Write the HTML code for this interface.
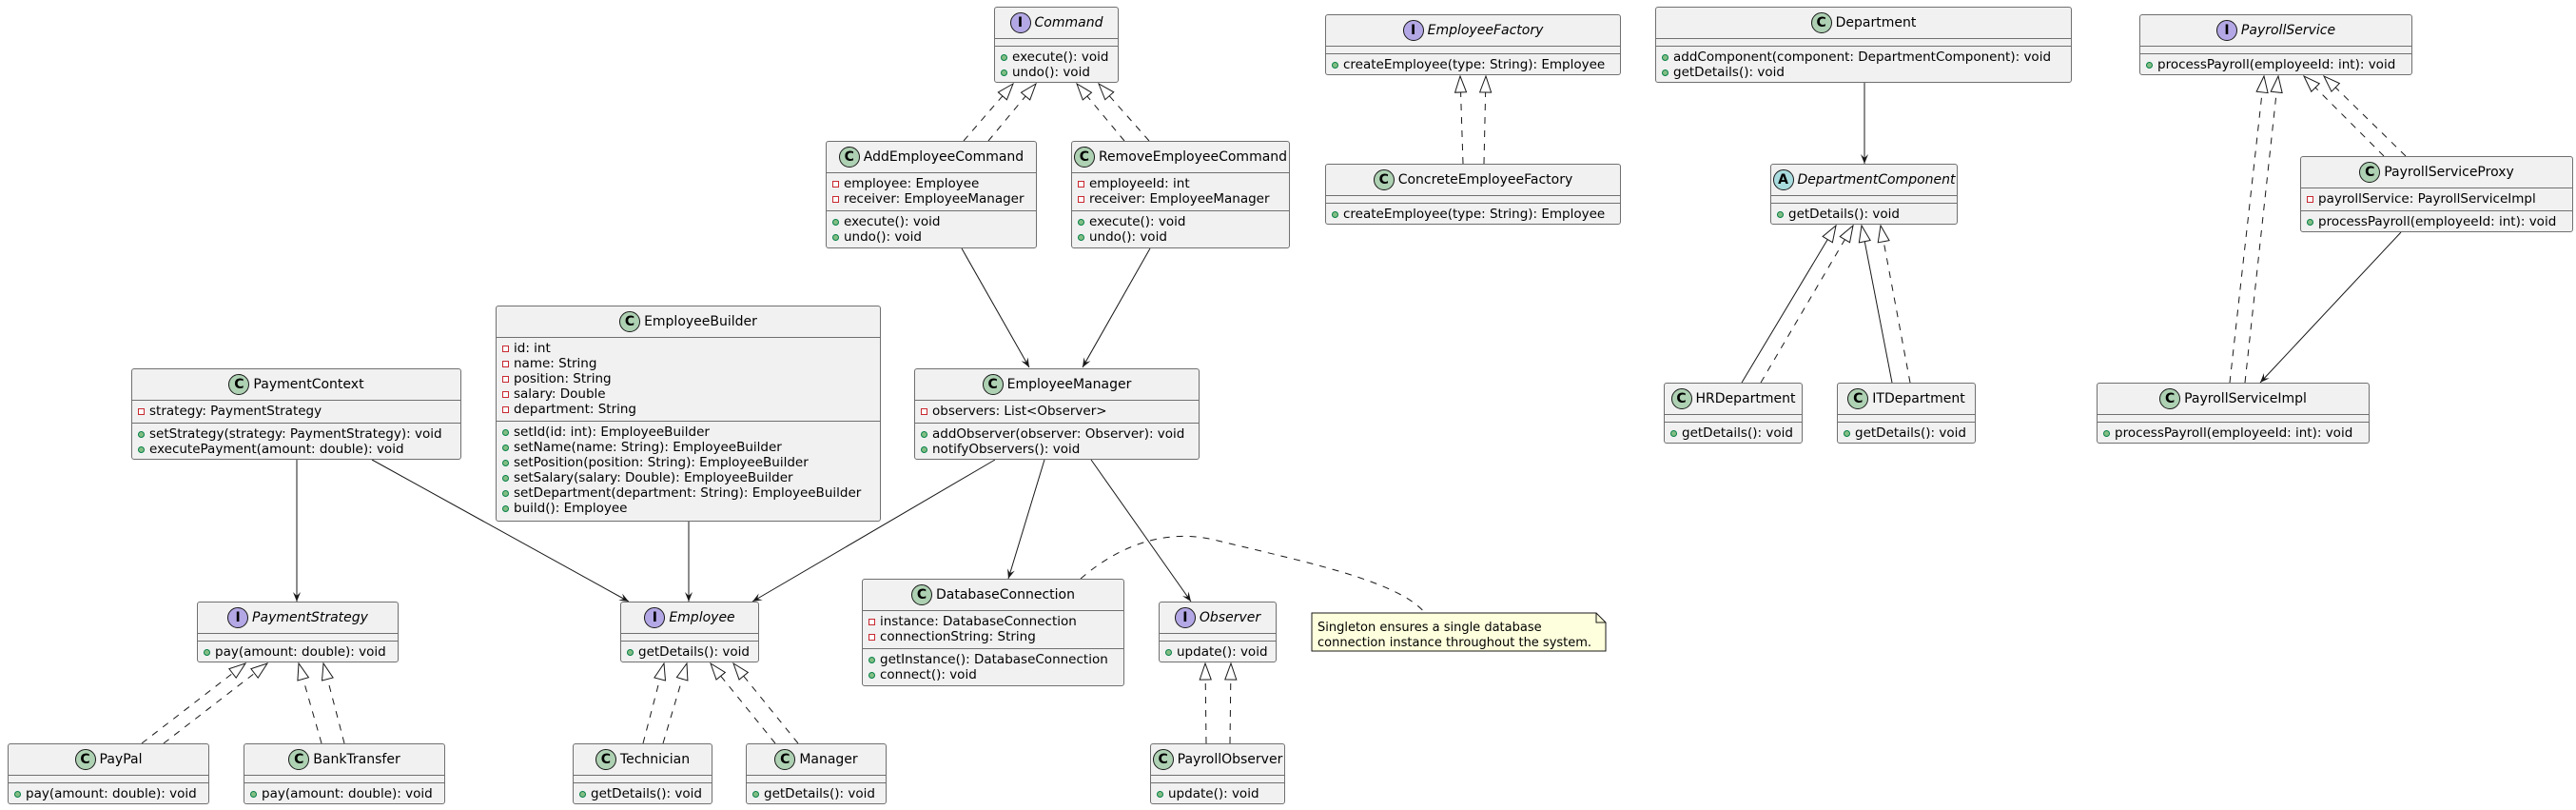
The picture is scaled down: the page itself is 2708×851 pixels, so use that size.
<!DOCTYPE html>
<html><head><meta charset="utf-8"><style>
*{margin:0;padding:0;box-sizing:border-box}
body{width:2708px;height:851px;background:#fff;position:relative;overflow:hidden;font-family:"DejaVu Sans","Liberation Sans",sans-serif;font-size:13.5px;color:#000}
svg{position:absolute;left:0;top:0}
.b{position:absolute;background:#F1F1F1;border:1px solid #707070;border-radius:3px;display:flex;flex-direction:column;white-space:nowrap;overflow:hidden}
.h{height:32px;flex:none;display:flex;align-items:center;justify-content:center;gap:4px;font-size:14px}
.h.it span:last-child{font-style:italic}
.ic{display:inline-block;width:22px;height:22px;border-radius:50%;border:1px solid #181818;text-align:center;line-height:21px;font-weight:bold;font-size:14px;font-style:normal}
.c{background:#ADD1B2}.i{background:#B4A7E5}.a{background:#A9DCDF}
.cp{border-top:1px solid #707070;padding-top:3px;flex:none}
.cp.l{flex:1}
.m{height:16px;line-height:16px;padding-left:6px}
.pv,.pb{display:inline-block;width:7px;height:7px;margin-right:5px;vertical-align:0px}
.pv{border:1px solid #C82930;background:#fff}
.pb{border:1px solid #038048;background:#84BE84;border-radius:50%}
</style></head><body>
<svg width="2708" height="851" viewBox="0 0 2708 851">
<defs>
<marker id="t" markerUnits="userSpaceOnUse" markerWidth="24" markerHeight="20" viewBox="-20 -10 22 20" refX="0" refY="0" orient="auto"><path d="M0,0 L-17,-6 L-17,6 Z" fill="#fff" stroke="#181818" stroke-width="1"/></marker>
<marker id="a" markerUnits="userSpaceOnUse" markerWidth="14" markerHeight="12" viewBox="-12 -6 14 12" refX="0" refY="0" orient="auto"><path d="M0,0 L-10,-4 L-6,0 L-10,4 Z" fill="#181818"/></marker>
</defs>
<g stroke="#181818" stroke-width="1" fill="none">
<g stroke-dasharray="7,7" marker-end="url(#t)">
<line x1="1013" y1="148" x2="1065" y2="88"/><line x1="1039" y1="148" x2="1089" y2="88"/>
<line x1="1182" y1="148" x2="1132" y2="88"/><line x1="1208" y1="148" x2="1155" y2="88"/>
<line x1="1538" y1="172" x2="1535" y2="80"/><line x1="1560" y1="172" x2="1562" y2="80"/>
<line x1="1851" y1="402" x2="1948" y2="237"/><line x1="2008" y1="402" x2="1977" y2="237"/>
<line x1="2344" y1="402" x2="2380" y2="80"/><line x1="2360" y1="402" x2="2395" y2="80"/>
<line x1="2506" y1="164" x2="2422" y2="80"/><line x1="2529" y1="164" x2="2443" y2="80"/>
<line x1="149" y1="781" x2="258" y2="697"/><line x1="172" y1="781" x2="281" y2="697"/>
<line x1="338" y1="781" x2="314" y2="697"/><line x1="362" y1="781" x2="340" y2="697"/>
<line x1="676" y1="781" x2="698" y2="697"/><line x1="697" y1="781" x2="722" y2="697"/>
<line x1="815" y1="781" x2="747" y2="697"/><line x1="839" y1="781" x2="771" y2="697"/>
<line x1="1268" y1="781" x2="1267" y2="697"/><line x1="1293" y1="781" x2="1294" y2="697"/>
</g>
<g marker-end="url(#t)">
<line x1="1831" y1="402" x2="1930" y2="237"/><line x1="1989" y1="402" x2="1957" y2="237"/>
</g>
<g marker-end="url(#a)">
<line x1="1960" y1="87" x2="1960" y2="172"/>
<line x1="2524" y1="244" x2="2376" y2="402"/>
<line x1="1011" y1="261" x2="1082" y2="386"/>
<line x1="1209" y1="261" x2="1138" y2="386"/>
<line x1="312" y1="483" x2="312" y2="632"/>
<line x1="391" y1="483" x2="661" y2="632"/>
<line x1="724" y1="548" x2="724" y2="632"/>
<line x1="1046" y1="483" x2="791" y2="632"/>
<line x1="1098" y1="483" x2="1060" y2="608"/>
<line x1="1147" y1="483" x2="1252" y2="632"/>
</g>
<path d="M1136,608 C1180,570 1230,555 1280,568 C1370,590 1470,610 1498,644" stroke-dasharray="7,7"/>
<path d="M1379,644 L1678,644 L1688,654 L1688,684 L1379,684 Z" fill="#FEFFDD"/>
<path d="M1678,644 L1678,654 L1688,654"/>
</g>
<text x="1385" y="663" font-size="13" font-family="DejaVu Sans, Liberation Sans, sans-serif">Singleton ensures a single database</text>
<text x="1385" y="679" font-size="13" font-family="DejaVu Sans, Liberation Sans, sans-serif">connection instance throughout the system.</text>
</svg>

<div class="b" style="left:1045px;top:7px;width:131px;height:80px"><div class="h it"><span class="ic i">I</span><span>Command</span></div><div class="cp" style="height:8px"></div><div class="cp l"><div class="m"><i class="pb"></i>execute(): void</div><div class="m"><i class="pb"></i>undo(): void</div></div></div>

<div class="b" style="left:868px;top:148px;width:222px;height:113px"><div class="h"><span class="ic c">C</span><span>AddEmployeeCommand</span></div><div class="cp" style="height:40px"><div class="m"><i class="pv"></i>employee: Employee</div><div class="m"><i class="pv"></i>receiver: EmployeeManager</div></div><div class="cp l"><div class="m"><i class="pb"></i>execute(): void</div><div class="m"><i class="pb"></i>undo(): void</div></div></div>

<div class="b" style="left:1126px;top:148px;width:230px;height:113px"><div class="h"><span class="ic c">C</span><span>RemoveEmployeeCommand</span></div><div class="cp" style="height:40px"><div class="m"><i class="pv"></i>employeeId: int</div><div class="m"><i class="pv"></i>receiver: EmployeeManager</div></div><div class="cp l"><div class="m"><i class="pb"></i>execute(): void</div><div class="m"><i class="pb"></i>undo(): void</div></div></div>

<div class="b" style="left:1393px;top:15px;width:311px;height:64px"><div class="h it"><span class="ic i">I</span><span>EmployeeFactory</span></div><div class="cp" style="height:8px"></div><div class="cp l"><div class="m"><i class="pb"></i>createEmployee(type: String): Employee</div></div></div>

<div class="b" style="left:1393px;top:172px;width:311px;height:64px"><div class="h"><span class="ic c">C</span><span>ConcreteEmployeeFactory</span></div><div class="cp" style="height:8px"></div><div class="cp l"><div class="m"><i class="pb"></i>createEmployee(type: String): Employee</div></div></div>

<div class="b" style="left:1740px;top:7px;width:438px;height:80px"><div class="h"><span class="ic c">C</span><span>Department</span></div><div class="cp" style="height:8px"></div><div class="cp l"><div class="m"><i class="pb"></i>addComponent(component: DepartmentComponent): void</div><div class="m"><i class="pb"></i>getDetails(): void</div></div></div>

<div class="b" style="left:1861px;top:172px;width:197px;height:64px"><div class="h it"><span class="ic a">A</span><span>DepartmentComponent</span></div><div class="cp" style="height:8px"></div><div class="cp l"><div class="m"><i class="pb"></i>getDetails(): void</div></div></div>

<div class="b" style="left:1749px;top:402px;width:146px;height:64px"><div class="h"><span class="ic c">C</span><span>HRDepartment</span></div><div class="cp" style="height:8px"></div><div class="cp l"><div class="m"><i class="pb"></i>getDetails(): void</div></div></div>

<div class="b" style="left:1931px;top:402px;width:146px;height:64px"><div class="h"><span class="ic c">C</span><span>ITDepartment</span></div><div class="cp" style="height:8px"></div><div class="cp l"><div class="m"><i class="pb"></i>getDetails(): void</div></div></div>

<div class="b" style="left:2249px;top:15px;width:287px;height:64px"><div class="h it"><span class="ic i">I</span><span>PayrollService</span></div><div class="cp" style="height:8px"></div><div class="cp l"><div class="m"><i class="pb"></i>processPayroll(employeeId: int): void</div></div></div>

<div class="b" style="left:2418px;top:164px;width:287px;height:80px"><div class="h"><span class="ic c">C</span><span>PayrollServiceProxy</span></div><div class="cp" style="height:24px"><div class="m"><i class="pv"></i>payrollService: PayrollServiceImpl</div></div><div class="cp l"><div class="m"><i class="pb"></i>processPayroll(employeeId: int): void</div></div></div>

<div class="b" style="left:2204px;top:402px;width:287px;height:64px"><div class="h"><span class="ic c">C</span><span>PayrollServiceImpl</span></div><div class="cp" style="height:8px"></div><div class="cp l"><div class="m"><i class="pb"></i>processPayroll(employeeId: int): void</div></div></div>

<div class="b" style="left:138px;top:387px;width:347px;height:96px"><div class="h"><span class="ic c">C</span><span>PaymentContext</span></div><div class="cp" style="height:24px"><div class="m"><i class="pv"></i>strategy: PaymentStrategy</div></div><div class="cp l"><div class="m"><i class="pb"></i>setStrategy(strategy: PaymentStrategy): void</div><div class="m"><i class="pb"></i>executePayment(amount: double): void</div></div></div>

<div class="b" style="left:521px;top:321px;width:405px;height:227px"><div class="h"><span class="ic c">C</span><span>EmployeeBuilder</span></div><div class="cp" style="height:88px"><div class="m"><i class="pv"></i>id: int</div><div class="m"><i class="pv"></i>name: String</div><div class="m"><i class="pv"></i>position: String</div><div class="m"><i class="pv"></i>salary: Double</div><div class="m"><i class="pv"></i>department: String</div></div><div class="cp l"><div class="m"><i class="pb"></i>setId(id: int): EmployeeBuilder</div><div class="m"><i class="pb"></i>setName(name: String): EmployeeBuilder</div><div class="m"><i class="pb"></i>setPosition(position: String): EmployeeBuilder</div><div class="m"><i class="pb"></i>setSalary(salary: Double): EmployeeBuilder</div><div class="m"><i class="pb"></i>setDepartment(department: String): EmployeeBuilder</div><div class="m"><i class="pb"></i>build(): Employee</div></div></div>

<div class="b" style="left:961px;top:387px;width:300px;height:96px"><div class="h"><span class="ic c">C</span><span>EmployeeManager</span></div><div class="cp" style="height:24px"><div class="m"><i class="pv"></i>observers: List&lt;Observer&gt;</div></div><div class="cp l"><div class="m"><i class="pb"></i>addObserver(observer: Observer): void</div><div class="m"><i class="pb"></i>notifyObservers(): void</div></div></div>

<div class="b" style="left:207px;top:632px;width:212px;height:64px"><div class="h it"><span class="ic i">I</span><span>PaymentStrategy</span></div><div class="cp" style="height:8px"></div><div class="cp l"><div class="m"><i class="pb"></i>pay(amount: double): void</div></div></div>

<div class="b" style="left:652px;top:632px;width:146px;height:64px"><div class="h it"><span class="ic i">I</span><span>Employee</span></div><div class="cp" style="height:8px"></div><div class="cp l"><div class="m"><i class="pb"></i>getDetails(): void</div></div></div>

<div class="b" style="left:906px;top:608px;width:276px;height:113px"><div class="h"><span class="ic c">C</span><span>DatabaseConnection</span></div><div class="cp" style="height:40px"><div class="m"><i class="pv"></i>instance: DatabaseConnection</div><div class="m"><i class="pv"></i>connectionString: String</div></div><div class="cp l"><div class="m"><i class="pb"></i>getInstance(): DatabaseConnection</div><div class="m"><i class="pb"></i>connect(): void</div></div></div>

<div class="b" style="left:1218px;top:632px;width:124px;height:64px"><div class="h it"><span class="ic i">I</span><span>Observer</span></div><div class="cp" style="height:8px"></div><div class="cp l"><div class="m"><i class="pb"></i>update(): void</div></div></div>

<div class="b" style="left:8px;top:781px;width:212px;height:64px"><div class="h"><span class="ic c">C</span><span>PayPal</span></div><div class="cp" style="height:8px"></div><div class="cp l"><div class="m"><i class="pb"></i>pay(amount: double): void</div></div></div>

<div class="b" style="left:256px;top:781px;width:212px;height:64px"><div class="h"><span class="ic c">C</span><span>BankTransfer</span></div><div class="cp" style="height:8px"></div><div class="cp l"><div class="m"><i class="pb"></i>pay(amount: double): void</div></div></div>

<div class="b" style="left:602px;top:781px;width:147px;height:64px"><div class="h"><span class="ic c">C</span><span>Technician</span></div><div class="cp" style="height:8px"></div><div class="cp l"><div class="m"><i class="pb"></i>getDetails(): void</div></div></div>

<div class="b" style="left:784px;top:781px;width:148px;height:64px"><div class="h"><span class="ic c">C</span><span>Manager</span></div><div class="cp" style="height:8px"></div><div class="cp l"><div class="m"><i class="pb"></i>getDetails(): void</div></div></div>

<div class="b" style="left:1209px;top:781px;width:142px;height:64px"><div class="h"><span class="ic c">C</span><span>PayrollObserver</span></div><div class="cp" style="height:8px"></div><div class="cp l"><div class="m"><i class="pb"></i>update(): void</div></div></div>
</body></html>
